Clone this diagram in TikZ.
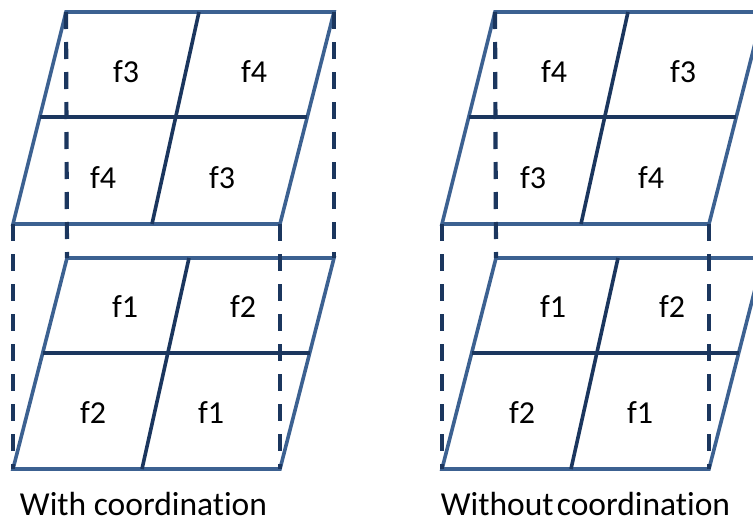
\documentclass[tikz,border=0pt]{standalone}
\usepackage{fontspec}
\setmainfont[Ligatures=CommonOff]{Carlito}
\definecolor{edgeblue}{HTML}{3C6191}
\definecolor{navy}{HTML}{1B365E}
\tikzset{
  outer/.style={draw=edgeblue, line width=3.6pt, line join=miter},
  inner/.style={draw=navy, line width=3.6pt},
  guide/.style={draw=navy, line width=4.2pt, dash pattern=on 17pt off 13pt},
  lbl/.style={font=\fontsize{32}{36}\selectfont, inner sep=0pt, anchor=base},
  captext/.style={font=\fontsize{33.5}{38}\selectfont, inner sep=0pt, anchor=base, text depth=0pt}
}
\begin{document}
\begin{tikzpicture}[x=1pt,y=-1pt]
\useasboundingbox (0,0) rectangle (753,525);
\foreach \s/\n in {0/L,429/R}{
  \begin{scope}[xshift=\s pt]
    % top layer
    \coordinate (\n TA) at (66,12);  \coordinate (\n TB) at (334,12);
    \coordinate (\n TC) at (280,224); \coordinate (\n TD) at (13,224);
    \coordinate (\n TM1) at (40,117); \coordinate (\n TM2) at (307,117);
    \coordinate (\n TV1) at (199,12); \coordinate (\n TV2) at (152,224);
    % bottom layer
    \coordinate (\n BA) at (67,258);  \coordinate (\n BB) at (334,258);
    \coordinate (\n BC) at (280,469); \coordinate (\n BD) at (13,469);
    \coordinate (\n BM1) at (43,353); \coordinate (\n BM2) at (310,353);
    \coordinate (\n BV1) at (189,258); \coordinate (\n BV2) at (142,469);
  \end{scope}
}
% outlines
\foreach \n in {L,R}{
  \draw[outer] (\n TA) -- (\n TB) -- (\n TC) -- (\n TD) -- cycle;
  \draw[outer] (\n BA) -- (\n BB) -- (\n BC) -- (\n BD) -- cycle;
  \draw[inner] (\n TM1) -- (\n TM2);
  \draw[inner] (\n TV1) -- (\n TV2);
  \draw[inner] (\n BM1) -- (\n BM2);
  \draw[inner] (\n BV1) -- (\n BV2);
  \draw[guide] (\n TD) -- (\n BD);
  \draw[guide] (\n TC) -- (\n BC);
  \draw[guide] (\n TA) -- (\n BA);
}
\draw[guide] (LTB) -- (LBB);
% labels left
\node[lbl] (l1) at (126,82) {f3};
\node[lbl] (l2) at (254,82) {f4};
\node[lbl] (l3) at (103,188) {f4};
\node[lbl] (l4) at (222,188) {f3};
\node[lbl] (l5) at (125,317) {f1};
\node[lbl] (l6) at (243,317) {f2};
\node[lbl] (l7) at (93,423) {f2};
\node[lbl] (l8) at (211,423) {f1};
% labels right
\node[lbl] (r1) at (554,82) {f4};
\node[lbl] (r2) at (683,82) {f3};
\node[lbl] (r3) at (533,188) {f3};
\node[lbl] (r4) at (651,188) {f4};
\node[lbl] (r5) at (553,317) {f1};
\node[lbl] (r6) at (672,317) {f2};
\node[lbl] (r7) at (522,423) {f2};
\node[lbl] (r8) at (640,423) {f1};
% captions
\node[captext] (c1) at (143.5,515.5) {With coordination};
\node[captext] (c2) at (585.5,515.5) {Without\hspace{0.1em}coordination};
\end{tikzpicture}
\end{document}
